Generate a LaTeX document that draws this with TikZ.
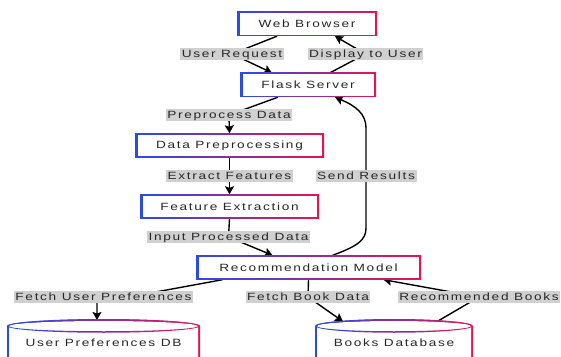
\documentclass[tikz,border=0pt]{standalone}
\usepackage{fontspec}
\setmainfont{Liberation Sans}[FakeStretch=1.3,LetterSpace=16]
\usetikzlibrary{arrows.meta,calc}
\definecolor{cblue}{RGB}{40,75,235}
\definecolor{cred}{RGB}{232,20,80}
\definecolor{lgray}{RGB}{208,208,208}
\definecolor{txt}{RGB}{40,40,40}
\pgfdeclarelayer{bg}
\pgfsetlayers{bg,main}
\newcommand\drawcyl[2]{%
 \shade[left color=cblue,right color=cred] (#1-#2-1,-20) -- (#1-#2-1,30) arc[start angle=180,end angle=0,x radius=#2+1,y radius=7] -- (#1+#2+1,-20) -- cycle;
 \fill[white] (#1-#2+1,-20) -- (#1-#2+1,30) arc[start angle=180,end angle=0,x radius=#2-1,y radius=5] -- (#1+#2-1,-20) -- cycle;
 \shade[left color=cblue,right color=cred,even odd rule] (#1,30) ellipse[x radius=#2+0.75,y radius=6.75] (#1,30) ellipse[x radius=#2-0.75,y radius=5.25];
}
\tikzset{
 gbox/.style={minimum width=#1, minimum height=24pt, inner sep=0pt, text=txt,
   font=\fontsize{10.5}{12}\selectfont,
   path picture={\shade[left color=cblue,right color=cred] (path picture bounding box.south west) rectangle (path picture bounding box.north east);
   \fill[white] ([xshift=2.5pt,yshift=1.4pt]path picture bounding box.south west) rectangle ([xshift=-2.5pt,yshift=-1.4pt]path picture bounding box.north east);}},
 elbl/.style={fill=lgray, inner xsep=1.5pt, inner ysep=1pt, text=txt,
   font=\fontsize{10.5}{12}\selectfont, text height=8.5pt, text depth=2.2pt},
 cyltext/.style={text=txt, font=\fontsize{10.5}{12}\selectfont, inner sep=0pt},
 conn/.style={line width=1.4pt, black, line join=round},
 arr/.style={conn, -{Stealth[length=8pt,width=9pt,inset=1.5pt]}},
}
\begin{document}
\begin{tikzpicture}[x=1pt,y=1pt]
\useasboundingbox (0,0) rectangle (561,356);
\clip (0,0) rectangle (561,356);
% boxes
\node[gbox=140pt] (wb) at (307,332) {Web Browser};
\node[gbox=136pt] (fs) at (308,271) {Flask Server};
\node[gbox=189pt] (dp) at (229.5,210.5) {Data Preprocessing};
\node[gbox=179pt] (fe) at (229.5,149.5) {Feature Extraction};
\node[gbox=225pt] (rm) at (308.5,88.5) {Recommendation Model};
% cylinders
\drawcyl{103.5}{95.5}
\drawcyl{394}{78}
\node[cyltext] (up) at (103.5,13) {User Preferences DB};
\node[cyltext] (bk) at (394,13) {Books Database};
\coordinate (upT) at (103.5,36);
\coordinate (bkT) at (394,36);
% labels
\node[elbl] (lUR) at (232,302) {User Request};
\node[elbl] (lDU) at (365.5,302) {Display to User};
\node[elbl] (lPD) at (229,241) {Preprocess Data};
\node[elbl] (lEF) at (229.5,180) {Extract Features};
\node[elbl] (lSR) at (366,180) {Send Results};
\node[elbl] (lIPD) at (228.5,119) {Input Processed Data};
\node[elbl] (lFUP) at (103.5,59) {Fetch User Preferences};
\node[elbl] (lFBD) at (308,59) {Fetch Book Data};
\node[elbl] (lRB) at (479,59) {Recommended Books};
% connectors
\begin{pgfonlayer}{bg}
\draw[arr] ([xshift=-30pt]wb.south) -- (lUR.center) -- ([xshift=-36pt]fs.north);
\draw[arr] ([xshift=22pt]fs.north) -- (lDU.center) -- ([xshift=28pt]wb.south);
\draw[arr] ([xshift=-30pt]fs.south) -- (lPD.center) -- (dp.north);
\draw[arr] (dp.south) -- (lEF.center) -- (fe.north);
\draw[arr] (fe.south) -- (lIPD.center) -- ([xshift=-36pt]rm.north);
\draw[arr] ([xshift=24pt]rm.north) .. controls (358,110) and (366,116) .. (366,128) -- (lSR.center) -- (366,228) .. controls (366,242) and (356,250) .. ([xshift=27pt]fs.south);
\draw[arr] ([xshift=-86pt]rm.south) -- ([xshift=25pt]lFUP.center) -- ([xshift=-6.5pt]lFUP.center) -- ([xshift=-6.5pt]upT);
\draw[arr] (rm.south) -- (lFBD.center) -- ([xshift=-51pt,yshift=-1.5pt]bkT);
\draw[arr] ([xshift=44pt,yshift=-1pt]bkT) -- (lRB.center) -- ([xshift=75pt]rm.south);
\end{pgfonlayer}
\end{tikzpicture}
\end{document}
